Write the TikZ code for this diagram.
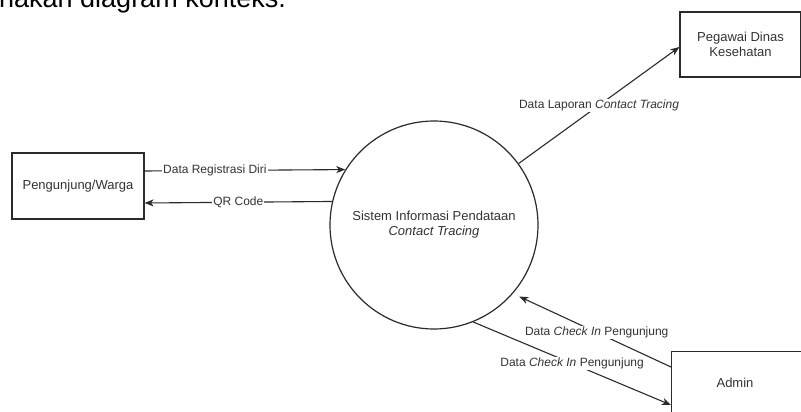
\documentclass[tikz,border=0pt]{standalone}
\usepackage{fontspec}
\setmainfont{Liberation Sans}
\usetikzlibrary{arrows.meta}
\definecolor{ink}{HTML}{2B2B2B}
\definecolor{txt}{HTML}{333333}
\begin{document}
\begin{tikzpicture}[x=1pt,y=-1pt,
  ent/.style={draw=ink, line width=1.2pt, fill=white, inner sep=0pt},
  proc/.style={draw=ink, line width=1.2pt, circle, minimum size=208pt, inner sep=0pt, fill=white},
  boxtext/.style={text=txt, font=\fontsize{13}{15}\selectfont, align=center},
  flow/.style={draw=ink, line width=1.1pt, -{Stealth[length=9pt,width=7pt,inset=2.5pt]}},
  lbl/.style={fill=white, text=txt, inner sep=1pt, font=\fontsize{12}{14}\selectfont}
]
\clip (0,0) rectangle (801,412);
\fill[white] (0,0) rectangle (801,412);
% cropped heading text
\node[anchor=base west, inner sep=0pt, text=black, font=\fontsize{27}{30}\selectfont] (head) at (-1,7.5) {nakan diagram konteks.};
% entities
\node[ent, minimum width=132pt, minimum height=66pt] (pw) at (78,186) {};
\node[boxtext] (pwt) at (pw.center) {Pengunjung/Warga};
\node[ent, minimum width=121pt, minimum height=65pt] (peg) at (740.5,44.5) {};
\node[boxtext] (pegt) at (peg.center) {Pegawai Dinas\\Kesehatan};
\node[ent, minimum width=132pt, minimum height=100pt, anchor=north west] (adm) at (671,351) {};
\node[boxtext] (admt) at (735,383) {Admin};
\node[proc] (sys) at (434,225) {};
\node[boxtext] (syst) at (sys.center) {Sistem Informasi Pendataan\\\textit{Contact Tracing}};
% flows
\draw[flow] ([yshift=15pt]pw.east) -- (sys.148.7)
  node[lbl, pos=0.35] {Data Registrasi Diri};
\draw[flow] (sys.167.8) -- ([yshift=-17pt]pw.east)
  node[lbl, pos=0.5] {QR Code};
\draw[flow] (sys.36.2) -- ([yshift=-2.5pt]peg.west)
  node[lbl, pos=0.5] {Data Laporan \textit{Contact Tracing}};
\draw[flow, shorten >=7pt] ([yshift=-16pt]adm.north west) -- (sys.-41.7)
  node[lbl, pos=0.47] {Data \textit{Check In} Pengunjung};
\draw[flow] (sys.-68.1) -- ([yshift=-54pt]adm.north west)
  node[lbl, pos=0.5] {Data \textit{Check In} Pengunjung};
\end{tikzpicture}
\end{document}
